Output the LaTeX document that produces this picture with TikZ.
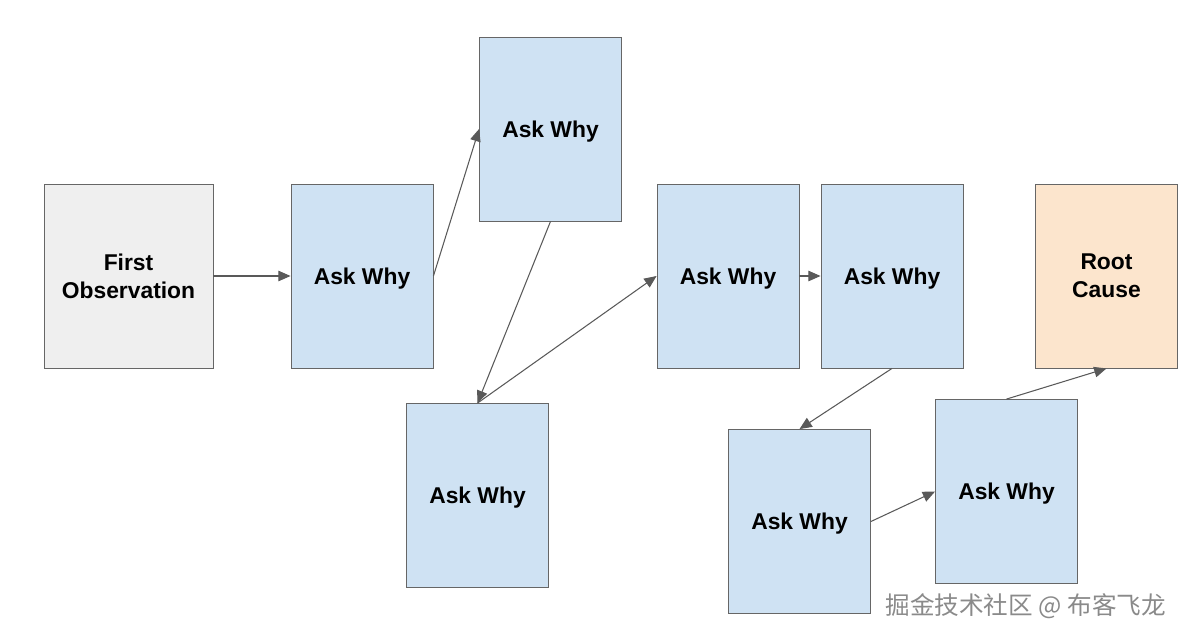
\documentclass[tikz,border=0pt]{standalone}
\usepackage{fontspec}
\setmainfont{Liberation Sans}
\newfontfamily\cjkfont{Noto Sans CJK SC}
\usetikzlibrary{arrows.meta}
\definecolor{whyblue}{HTML}{CFE2F3}
\definecolor{obsgray}{HTML}{EFEFEF}
\definecolor{rootorange}{HTML}{FCE5CD}
\definecolor{edgegray}{HTML}{666666}
\definecolor{arrowgray}{HTML}{595959}
\definecolor{markgray}{HTML}{8A8A8A}

\tikzset{
  card/.style={draw=edgegray, line width=0.5pt, minimum width=2.84cm, minimum height=3.68cm,
    align=center, font=\fontsize{13}{16}\selectfont\bfseries, inner sep=0pt},
  whybox/.style={card, fill=whyblue, text height=9.3pt, text depth=0pt},
  link/.style={-{Triangle[length=7pt,width=6pt]}, draw=arrowgray, line width=0.6pt}
}

\begin{document}
\begin{tikzpicture}[x=0.02cm,y=-0.02cm]
    \useasboundingbox (0,0) rectangle (1191,640);

    % Start and end
    \node[card,fill=obsgray,minimum width=3.38cm] (obs) at (128.5,276) {First\\Observation};
    \node[card,fill=rootorange] (root) at (1106.5,276) {Root\\Cause};

    % The whys
    \node[whybox] (why1) at (362,276) {Ask Why};
    \node[whybox] (why2) at (550.5,129) {Ask Why};
    \node[whybox] (why3) at (477.5,495.5) {Ask Why};
    \node[whybox] (why4) at (728,276) {Ask Why};
    \node[whybox] (why5) at (892,276) {Ask Why};
    \node[whybox] (why6) at (799.5,521.5) {Ask Why};
    \node[whybox] (why7) at (1006.5,491.5) {Ask Why};

    % Chain
    \draw[link] (obs.east) -- (why1.west);
    \draw[link] (why1.east) -- (why2.west);
    \draw[link] (why2.south) -- (why3.north);
    \draw[link] (why3.north) -- (why4.west);
    \draw[link] (why4.east) -- (why5.west);
    \draw[link] (why5.south) -- (why6.north);
    \draw[link] (why6.east) -- (why7.west);
    \draw[link] (why7.north) -- (root.south);

    % Watermark
    \node[text=markgray,font=\cjkfont\fontsize{14}{15}\selectfont,anchor=east] (mark) at (1172,606) {掘金技术社区 @ 布客飞龙};
\end{tikzpicture}
\end{document}
